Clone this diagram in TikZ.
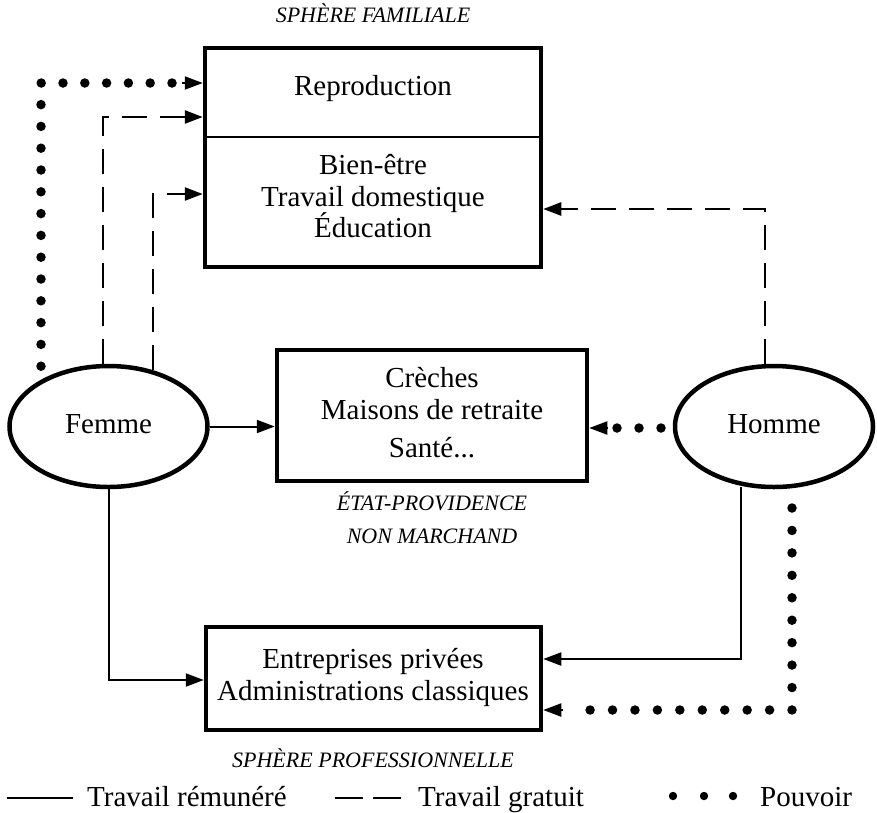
\documentclass[tikz,border=0pt]{standalone}
\usepackage{fontspec}
\setmainfont{Liberation Serif}
\usetikzlibrary{arrows.meta,shapes.geometric,calc}
\begin{document}
\begin{tikzpicture}[x=1pt,y=-1pt,
  box/.style={draw, line width=4.5pt, rectangle, inner sep=0pt},
  oval/.style={draw, line width=4.5pt, ellipse, inner sep=0pt, minimum width=198pt, minimum height=121pt},
  txt/.style={anchor=base, inner sep=0pt, font=\fontsize{29}{34}\selectfont},
  itl/.style={anchor=base, inner sep=0pt, font=\fontsize{22}{26}\selectfont\itshape},
  paid/.style={line width=2pt},
  free/.style={line width=2.5pt, dash pattern=on 25pt off 13pt},
  power/.style={line width=9.5pt, line cap=round, dash pattern=on 0pt off 22pt},
  tip/.style={-{Triangle[length=18pt,width=13pt]}},
]
\useasboundingbox (0,0) rectangle (877,812);

% boxes
\node[box, minimum width=336pt, minimum height=219pt] (fam) at (373,157.5) {};
\draw[line width=2.5pt] (fam.west |- 0,137) -- (fam.east |- 0,137);
\node[txt] (repro) at (373,95) {Reproduction};
\node[txt] (bien) at (373,174) {Bien-être};
\node[txt] (trav) at (373,206) {Travail domestique};
\node[txt] (educ) at (373,237) {Éducation};
\node[itl] (sfam) at (373,22) {SPHÈRE FAMILIALE};

\node[box, minimum width=310pt, minimum height=131pt] (etat) at (432,415.5) {};
\node[txt] (creches) at (432,387) {Crèches};
\node[txt] (maisons) at (432,419) {Maisons de retraite};
\node[txt] (sante) at (432,457) {Santé...};
\node[itl] (ep1) at (432,510) {ÉTAT-PROVIDENCE};
\node[itl] (ep2) at (432,543) {NON MARCHAND};

\node[box, minimum width=335pt, minimum height=103pt] (pro) at (373.5,678.5) {};
\node[txt] (entr) at (373,668) {Entreprises privées};
\node[txt] (admin) at (373,700) {Administrations classiques};
\node[itl] (spro) at (373,767) {SPHÈRE PROFESSIONNELLE};

\node[oval] (femme) at (108.5,426.5) {};
\node[txt] (femmet) at (108.5,433) {Femme};
\node[oval] (homme) at (774,426.5) {};
\node[txt] (hommet) at (774,433) {Homme};

% free ends near the ovals
\coordinate (f1) at (103,364);
\coordinate (f2) at (153,370);
\coordinate (fp) at (41,367);
\coordinate (fpa) at (172,83);
\coordinate (h1) at (765,364);
\coordinate (h2) at (741,487);
\coordinate (hp) at (792,508);
\coordinate (hpa) at (568,710);
\coordinate (hm1) at (661,428);
\coordinate (hm2) at (617,428);

% Femme -> sphere familiale
\draw[power, dash pattern=on 0pt off 21.8pt] (fpa) -| (fp);
\draw[paid, tip] ($(fpa)+(10,0)$) -- (fam.west |- fpa);
\draw[free, tip] (f1) |- (fam.west |- 0,117);
\draw[free, tip] (f2) |- (fam.west |- 0,194);

% Homme -> sphere familiale
\draw[free, tip] (h1) |- (fam.east |- 0,209);

% Etat-providence
\draw[paid, tip] (femme.east) -- (etat.west |- femme.east);
\draw[power] (hm1) -- (hm2);
\draw[paid, tip] ($(hm2)+(-9,0)$) -- (etat.east |- hm2);

% sphere professionnelle
\draw[paid, tip] (femme.south) |- (pro.west |- 0,680);
\draw[paid, tip] (h2) |- (pro.east |- 0,659);
\draw[power, dash pattern=on 0pt off 22.44pt] (hp) |- (hpa);
\draw[paid, tip] ($(hpa)+(-5,0)$) -- (pro.east |- hpa);

% legend
\coordinate (la) at (7,798);
\coordinate (lb) at (73,798);
\draw[paid] (la) -- (lb);
\node[txt, anchor=base west] (l1) at (87,806) {Travail rémunéré};
\coordinate (lc) at (335,798);
\coordinate (ld) at (401,798);
\draw[line width=2.5pt, dash pattern=on 28pt off 10pt] (lc) -- (ld);
\node[txt, anchor=base west] (l2) at (418,806) {Travail gratuit};
\fill (673,796) circle (4.2pt) (704,796) circle (4.2pt) (733,796) circle (4.2pt);
\node[txt, anchor=base west] (l3) at (760,806) {Pouvoir};
\end{tikzpicture}
\end{document}
